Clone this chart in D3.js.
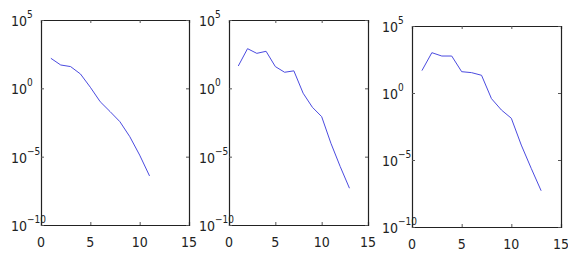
<!DOCTYPE html>
<html>
<head>
<meta charset="utf-8">
<script src="https://cdn.jsdelivr.net/npm/d3@7"></script>
<style>
  body { margin: 0; background: #fff; }
  text { font-family: "Liberation Sans Narrow", "DejaVu Sans Condensed", "Liberation Sans", sans-serif; fill: #222; }
</style>
</head>
<body>
<div id="chart"></div>
<script>
// values
var iter1 = [1, 2, 3, 4, 5, 6, 7, 8, 9, 10, 11];
var err1 = [158, 51, 39, 11.2, 1.2, 0.105, 0.02, 0.0036, 2.9e-4, 1.3e-5, 3.9e-7];

var iter2 = [1, 2, 3, 4, 5, 6, 7, 8, 9, 10, 11, 12, 13];
var err2 = [43, 800, 363, 513, 39, 15, 19, 0.44, 0.041, 0.0085, 9.5e-5, 1.9e-6, 4.9e-8];

var iter3 = [1, 2, 3, 4, 5, 6, 7, 8, 9, 10, 11, 12, 13];
var err3 = [47, 1020, 575, 575, 39, 33, 21, 0.38, 0.054, 0.013, 1.3e-4, 2.4e-6, 5.1e-8];

var xTicks = [0, 5, 10, 15];
var yTicks = [1e-10, 1e-5, 1, 1e5];
var yExp = ["\u221210", "\u22125", "0", "5"];

var panels = [
  {x: iter1, y: err1, left: 41, right: 189, top: 20, bottom: 225},
  {x: iter2, y: err2, left: 229, right: 368, top: 20, bottom: 225},
  {x: iter3, y: err3, left: 412, right: 561, top: 26, bottom: 227}
];

var svg = d3.select("#chart").append("svg")
    .attr("width", 568)
    .attr("height", 259);

svg.append("rect").attr("width", 568).attr("height", 259).attr("fill", "#fff");

panels.forEach(function(p) {
  var x = d3.scaleLinear().domain([0, 15]).range([p.left, p.right]);
  var y = d3.scaleLog().domain([1e-10, 1e5]).range([p.bottom, p.top]);

  var g = svg.append("g");

  // inward ticks on all four sides
  var axes = [
    {ax: d3.axisBottom(x).tickValues(xTicks), t: "translate(0," + p.bottom + ")"},
    {ax: d3.axisTop(x).tickValues(xTicks), t: "translate(0," + p.top + ")"},
    {ax: d3.axisLeft(y).tickValues(yTicks), t: "translate(" + p.left + ",0)"},
    {ax: d3.axisRight(y).tickValues(yTicks), t: "translate(" + p.right + ",0)"}
  ];
  axes.forEach(function(a) {
    var ag = g.append("g")
        .attr("transform", a.t)
        .call(a.ax.tickSize(-3).tickFormat(""));
    ag.selectAll("line").attr("stroke", "#555");
    ag.select(".domain").attr("stroke", "#222").attr("stroke-width", 1.2);
  });

  g.selectAll(".xlab")
      .data(xTicks)
    .enter().append("text")
      .attr("x", function(d) { return x(d); })
      .attr("y", p.bottom + 22)
      .attr("text-anchor", "middle")
      .style("font-size", "14px")
      .text(function(d) { return d; });

  var ylab = g.selectAll(".ylab")
      .data(yTicks)
    .enter().append("text")
      .attr("x", p.left - 30)
      .attr("y", function(d) { return y(d) + 6; })
      .style("font-size", "14px");
  ylab.append("tspan").text("10");
  ylab.append("tspan")
      .attr("dy", -8)
      .style("font-size", "10px")
      .text(function(d, i) { return yExp[i]; });

  var line = d3.line()
      .x(function(d, i) { return x(p.x[i]); })
      .y(function(d) { return y(d); });

  g.append("path")
      .datum(p.y)
      .attr("fill", "none")
      .attr("stroke", "#4b4be0")
      .attr("stroke-width", 1)
      .attr("d", line);
});
</script>
</body>
</html>
